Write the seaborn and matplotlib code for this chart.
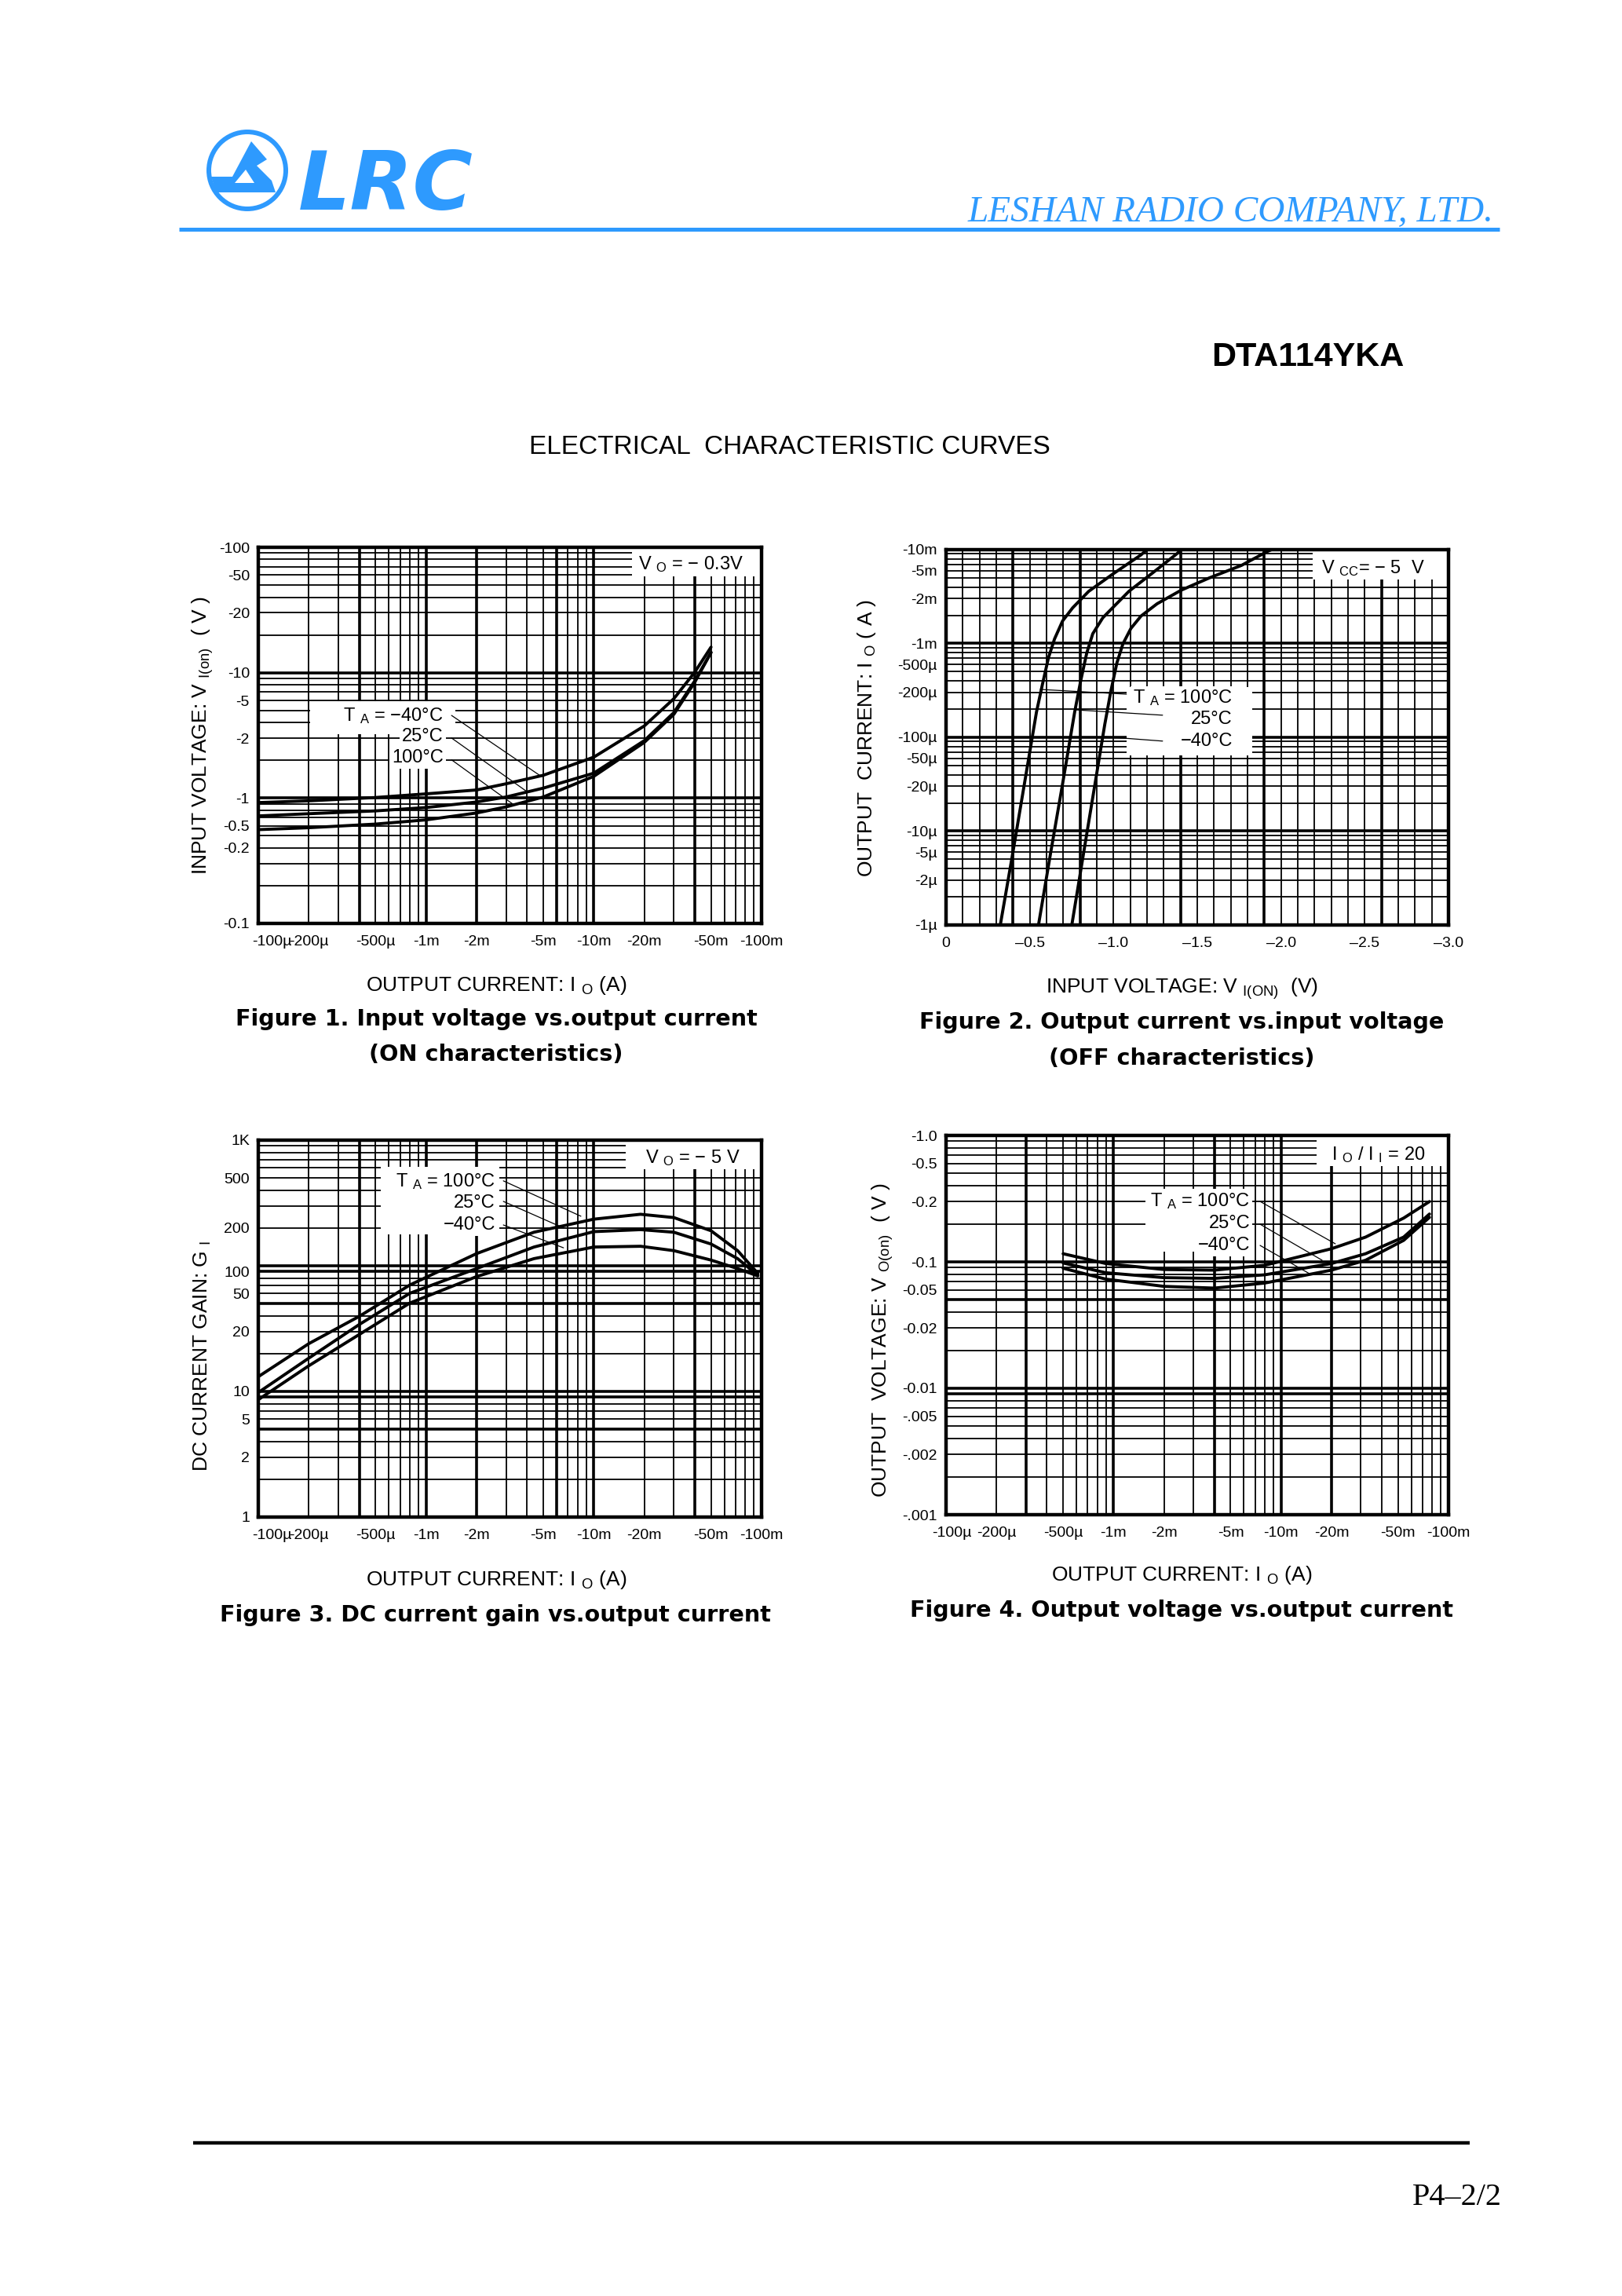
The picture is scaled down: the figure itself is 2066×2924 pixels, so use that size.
import numpy as np
import seaborn as sns
import matplotlib.pyplot as plt
from matplotlib.patches import Rectangle, Circle, Polygon
from matplotlib.ticker import NullLocator

sns.set_theme(style="white")
plt.rcParams["font.family"] = ["Liberation Sans", "DejaVu Sans"]
plt.rcParams["mathtext.fontset"] = "custom"
plt.rcParams["mathtext.rm"] = "Liberation Sans"
plt.rcParams["mathtext.it"] = "Liberation Sans:italic"
plt.rcParams["text.color"] = "black"
plt.rcParams["axes.labelcolor"] = "black"
plt.rcParams["xtick.color"] = "black"
plt.rcParams["ytick.color"] = "black"

BLUE = "#2E9AFE"

# ===================== data =====================
# Figure 1: input voltage V_I(on) vs output current I_O  (V_O = -0.3 V), magnitudes
f1_io = [1e-4, 2e-4, 5e-4, 1e-3, 2e-3, 3e-3, 5e-3, 1e-2, 2e-2, 3e-2, 4e-2, 5e-2]
f1_m40 = [0.92, 0.95, 1.01, 1.08, 1.16, 1.30, 1.52, 2.12, 3.76, 6.2, 10.1, 16.0]
f1_25 = [0.72, 0.75, 0.79, 0.84, 0.93, 1.02, 1.20, 1.58, 2.87, 4.8, 8.6, 14.5]
f1_100 = [0.56, 0.58, 0.62, 0.67, 0.76, 0.85, 1.02, 1.49, 2.78, 4.65, 8.4, 14.5]

# Figure 2: output current vs input voltage (V_CC = -5 V), magnitudes
f2_100_v = [0.324, 0.396, 0.468, 0.540, 0.576, 0.612, 0.648, 0.696, 0.756, 0.852, 0.996, 1.164, 1.200]
f2_100_i = [1e-6, 5.5e-6, 3.2e-5, 1.86e-4, 3.7e-4, 7.1e-4, 1.12e-3, 1.74e-3, 2.4e-3, 3.6e-3, 5.5e-3, 8.8e-3, 1e-2]
f2_25_v = [0.552, 0.624, 0.696, 0.768, 0.804, 0.840, 0.876, 0.936, 1.008, 1.092, 1.236, 1.380, 1.404]
f2_25_i = [1e-6, 5.8e-6, 3.2e-5, 1.86e-4, 4.0e-4, 7.9e-4, 1.27e-3, 1.88e-3, 2.54e-3, 3.6e-3, 5.7e-3, 9.1e-3, 1e-2]
f2_m40_v = [0.751, 0.828, 0.900, 0.948, 0.984, 1.020, 1.056, 1.104, 1.164, 1.260, 1.404, 1.572, 1.764, 1.920, 1.944]
f2_m40_i = [1e-6, 6.9e-6, 4.15e-5, 1.38e-4, 3.1e-4, 6.2e-4, 9.9e-4, 1.45e-3, 1.96e-3, 2.65e-3, 3.7e-3, 5.0e-3, 6.8e-3, 9.6e-3, 1e-2]

# Figure 3: DC current gain vs output current (V_O = -5 V)
f3_io = [1e-4, 2e-4, 4e-4, 8e-4, 2e-3, 4.4e-3, 1e-2, 1.9e-2, 3e-2, 5e-2, 7.2e-2, 9.5e-2]
f3_100 = [13.1, 24.0, 39.6, 70.3, 125, 185, 235, 257, 242, 190, 132, 87]
f3_25 = [9.8, 18.4, 34.1, 60.4, 95, 141, 187, 194, 185, 149, 114, 84]
f3_m40 = [8.6, 16.0, 28.4, 50.5, 82, 114, 141, 143, 132, 111, 95, 83]

# Figure 4: output voltage vs output current (I_O/I_I = 20)
f4_io = [5e-4, 9e-4, 2e-3, 4e-3, 8e-3, 2e-2, 3.2e-2, 5.4e-2, 7.7e-2]
f4_100 = [0.116, 0.097, 0.087, 0.086, 0.094, 0.127, 0.157, 0.222, 0.300]
f4_25 = [0.098, 0.082, 0.075, 0.074, 0.079, 0.097, 0.116, 0.157, 0.239]
f4_m40 = [0.089, 0.073, 0.064, 0.062, 0.068, 0.086, 0.103, 0.148, 0.225]

# tick labels (placed where the datasheet prints them)
cur_ticks = [1e-4, 2e-4, 5e-4, 1e-3, 2e-3, 5e-3, 1e-2, 2e-2, 5e-2, 1e-1]
cur_labels = ["-100µ", "-200µ", "-500µ", "-1m", "-2m", "-5m", "-10m", "-20m", "-50m", "-100m"]
f1_yticks = [100, 60, 30, 10, 6, 3, 1, 0.6, 0.4, 0.1]
f1_ylabels = ["-100", "-50", "-20", "-10", "-5", "-2", "-1", "-0.5", "-0.2", "-0.1"]
f2_xticks = [0, 0.5, 1.0, 1.5, 2.0, 2.5, 3.0]
f2_xlabels = ["0", "–0.5", "–1.0", "–1.5", "–2.0", "–2.5", "–3.0"]
f2_yticks = [1e-2, 6e-3, 3e-3, 1e-3, 6e-4, 3e-4, 1e-4, 6e-5, 3e-5, 1e-5, 6e-6, 3e-6, 1e-6]
f2_ylabels = ["-10m", "-5m", "-2m", "-1m", "-500µ", "-200µ", "-100µ", "-50µ", "-20µ", "-10µ", "-5µ", "-2µ", "-1µ"]
f3_yticks = [1000, 500, 200, 90, 60, 30, 10, 6, 3, 1]
f3_ylabels = ["1K", "500", "200", "100", "50", "20", "10", "5", "2", "1"]
f4_yticks = [1.0, 0.6, 0.3, 0.1, 0.06, 0.03, 0.01, 0.006, 0.003, 0.001]
f4_ylabels = ["-1.0", "-0.5", "-0.2", "-0.1", "-0.05", "-0.02", "-0.01", "-.005", "-.002", "-.001"]

W, H = 2066, 2924
fig = plt.figure(figsize=(W / 100, H / 100), dpi=100)
fig.patch.set_facecolor("white")

# page overlay in pixel coordinates
ax0 = fig.add_axes([0, 0, 1, 1])
ax0.set_xlim(0, W)
ax0.set_ylim(H, 0)
ax0.axis("off")

TICK = 14
XPAD = 11


def px_axes(l, t, r, b):
    return fig.add_axes([l / W, 1 - b / H, (r - l) / W, (b - t) / H])


def log_values(lo, hi):
    out = []
    for d in range(int(np.floor(np.log10(lo))), int(np.ceil(np.log10(hi)))):
        for k in range(1, 10):
            v = k * 10.0 ** d
            if lo * 1.0001 < v < hi * 0.9999:
                out.append(v)
    return out


def is_decade(v):
    lv = np.log10(v)
    return np.isclose(lv, np.round(lv))


def draw_grid(ax, xs, ys, thick_x, thick_y, xlog=True):
    for v in xs:
        heavy = any(np.isclose(v, t) for t in thick_x) or (xlog and is_decade(v))
        ax.axvline(v, color="black", lw=2.6 if heavy else 1.3, zorder=1)
    for v in ys:
        heavy = any(np.isclose(v, t) for t in thick_y) or is_decade(v)
        ax.axhline(v, color="black", lw=2.6 if heavy else 1.3, zorder=1)


def white_box(ax, x0, y0, x1, y1):
    ax.add_patch(Rectangle((x0, y0), x1 - x0, y1 - y0, transform=ax.transAxes,
                           facecolor="white", edgecolor="none", zorder=2))


def style_axes(ax):
    ax.set_facecolor("white")
    for s in ax.spines.values():
        s.set_visible(True)
        s.set_linewidth(3.2)
        s.set_color("black")
        s.set_zorder(6)
    ax.xaxis.set_minor_locator(NullLocator())
    ax.yaxis.set_minor_locator(NullLocator())
    ax.tick_params(which="both", length=0, labelsize=TICK, colors="black")
    ax.tick_params(axis="y", pad=8)
    ax.tick_params(axis="x", pad=XPAD)


def current_axis(ax, dx):
    # first label sits left of the frame, as printed on the sheet
    ax.set_xticks(cur_ticks, [""] + cur_labels[1:])
    ax.annotate(cur_labels[0], xy=(0, 0), xycoords="axes fraction", xytext=(dx, -XPAD),
                textcoords="offset points", ha="left", va="top", fontsize=TICK)


def temp_labels(ax, texts, fx, fys, starts, ends):
    for t, fy in zip(texts, fys):
        ax.text(fx, fy, t, transform=ax.transAxes, ha="right", va="center", fontsize=17,
                zorder=5, bbox=dict(facecolor="white", edgecolor="none", pad=2))
    for (sx, sy), (ex, ey) in zip(starts, ends):
        ax.annotate("", xy=(ex, ey), xycoords="data", xytext=(sx, sy), textcoords="axes fraction",
                    arrowprops=dict(arrowstyle="-", lw=0.9, color="black", shrinkA=0, shrinkB=0),
                    zorder=5)


def curves(ax, xs_list, ys_list):
    for xs, ys in zip(xs_list, ys_list):
        sns.lineplot(x=xs, y=ys, ax=ax, color="black", linewidth=2.8, estimator=None,
                     sort=False, legend=False, zorder=4)


LBL = 19

# ===================== Figure 1 =====================
ax1 = px_axes(329, 697, 970, 1176)
ax1.set_xscale("log"); ax1.set_yscale("log")
ax1.set_xlim(1e-4, 1e-1); ax1.set_ylim(0.1, 100)
draw_grid(ax1, log_values(1e-4, 1e-1), log_values(0.1, 100), [4e-4, 2e-3, 6e-3, 4e-2], [])
white_box(ax1, 0.743, 0.923, 1.0, 1.0)
white_box(ax1, 0.103, 0.503, 0.392, 0.591)
curves(ax1, [f1_io] * 3, [f1_m40, f1_25, f1_100])
ax1.text(0.86, 0.954, r"V $_{\rm O}$ = − 0.3V", transform=ax1.transAxes, ha="center", va="center",
         fontsize=17, zorder=5)
temp_labels(ax1, [r"T $_{\rm A}$ = −40°C", "25°C", "100°C"], 0.368, [0.553, 0.497, 0.440],
            [(0.384, 0.553), (0.384, 0.493), (0.384, 0.435)],
            [(4.89e-3, 1.48), (3.94e-3, 1.14), (3.35e-3, 0.88)])
style_axes(ax1)
current_axis(ax1, -6)
ax1.set_yticks(f1_yticks, f1_ylabels)
ax1.set_xlabel(r"OUTPUT CURRENT: I $_{\rm O}$ (A)", fontsize=LBL)
ax1.set_ylabel(r"INPUT VOLTAGE: V $_{\rm I(on)}$  ( V )", fontsize=LBL)
ax1.xaxis.set_label_coords(0.473, -0.165)
ax1.yaxis.set_label_coords(-0.111, 0.5)

# ===================== Figure 2 =====================
ax2 = px_axes(1205, 700, 1845, 1178)
ax2.set_yscale("log")
ax2.set_xlim(0, 3.0); ax2.set_ylim(1e-6, 1e-2)
draw_grid(ax2, list(np.arange(1, 30) / 10.0), log_values(1e-6, 1e-2), [0.4, 0.8, 1.4, 1.9, 2.6], [], xlog=False)
white_box(ax2, 0.73, 0.92, 1.0, 1.0)
white_box(ax2, 0.359, 0.452, 0.609, 0.634)
curves(ax2, [f2_100_v, f2_25_v, f2_m40_v], [f2_100_i, f2_25_i, f2_m40_i])
ax2.text(0.85, 0.95, r"V $_{\rm CC}$= − 5  V", transform=ax2.transAxes, ha="center", va="center",
         fontsize=17, zorder=5)
temp_labels(ax2, [r"T $_{\rm A}$ = 100°C", "25°C", "−40°C"], 0.570, [0.605, 0.548, 0.490],
            [(0.359, 0.615), (0.431, 0.559), (0.431, 0.490)],
            [(0.5625, 3.24e-4), (0.778, 1.96e-4), (0.933, 1.02e-4)])
style_axes(ax2)
ax2.set_xticks(f2_xticks, f2_xlabels)
ax2.set_yticks(f2_yticks, f2_ylabels)
ax2.set_xlabel(r"INPUT VOLTAGE: V $_{\rm I(ON)}$  (V)", fontsize=LBL)
ax2.set_ylabel(r"OUTPUT  CURRENT: I $_{\rm O}$ ( A )", fontsize=LBL)
ax2.xaxis.set_label_coords(0.469, -0.169)
ax2.yaxis.set_label_coords(-0.158, 0.498)

# ===================== Figure 3 =====================
ax3 = px_axes(329, 1452, 970, 1932)
ax3.set_xscale("log"); ax3.set_yscale("log")
ax3.set_xlim(1e-4, 1e-1); ax3.set_ylim(1, 1000)
draw_grid(ax3, log_values(1e-4, 1e-1), log_values(1, 1000), [4e-4, 2e-3, 6e-3, 4e-2], [90, 50, 9, 5])
white_box(ax3, 0.73, 0.923, 1.0, 1.0)
white_box(ax3, 0.243, 0.75, 0.479, 0.929)
curves(ax3, [f3_io] * 3, [f3_100, f3_25, f3_m40])
ax3.text(0.864, 0.954, r"V $_{\rm O}$ = − 5 V", transform=ax3.transAxes, ha="center", va="center",
         fontsize=17, zorder=5)
temp_labels(ax3, [r"T $_{\rm A}$ = 100°C", "25°C", "−40°C"], 0.471, [0.890, 0.833, 0.774],
            [(0.487, 0.892), (0.487, 0.8375), (0.487, 0.775)],
            [(8.38e-3, 248), (6.6e-3, 200), (6.6e-3, 139)])
style_axes(ax3)
current_axis(ax3, -6)
ax3.set_yticks(f3_yticks, f3_ylabels)
ax3.set_xlabel(r"OUTPUT CURRENT: I $_{\rm O}$ (A)", fontsize=LBL)
ax3.set_ylabel(r"DC CURRENT GAIN: G $_{\rm I}$", fontsize=LBL)
ax3.xaxis.set_label_coords(0.473, -0.167)
ax3.yaxis.set_label_coords(-0.111, 0.427)

# ===================== Figure 4 =====================
ax4 = px_axes(1205, 1446, 1845, 1929)
ax4.set_xscale("log"); ax4.set_yscale("log")
ax4.set_xlim(1e-4, 1e-1); ax4.set_ylim(0.001, 1.0)
draw_grid(ax4, log_values(1e-4, 1e-1), log_values(0.001, 1.0), [3e-4, 1e-3, 4e-3, 2e-2], [0.05, 0.009])
white_box(ax4, 0.7375, 0.919, 1.0, 1.0)
white_box(ax4, 0.397, 0.694, 0.609, 0.859)
curves(ax4, [f4_io] * 3, [f4_100, f4_25, f4_m40])
ax4.text(0.861, 0.950, r"I $_{\rm O}$ / I $_{\rm I}$ = 20", transform=ax4.transAxes, ha="center",
         va="center", fontsize=17, zorder=5)
temp_labels(ax4, [r"T $_{\rm A}$ = 100°C", "25°C", "−40°C"], 0.605, [0.826, 0.768, 0.710],
            [(0.625, 0.826), (0.625, 0.766), (0.625, 0.710)],
            [(2.11e-2, 0.139), (1.76e-2, 0.103), (1.47e-2, 0.081)])
style_axes(ax4)
current_axis(ax4, -13)
ax4.set_yticks(f4_yticks, f4_ylabels)
ax4.set_xlabel(r"OUTPUT CURRENT: I $_{\rm O}$ (A)", fontsize=LBL)
ax4.set_ylabel(r"OUTPUT  VOLTAGE: V $_{\rm O(on)}$  ( V )", fontsize=LBL)
ax4.xaxis.set_label_coords(0.469, -0.159)
ax4.yaxis.set_label_coords(-0.127, 0.46)

for a in (ax1, ax2, ax3, ax4):
    a.xaxis.label.set_va("center")
    a.yaxis.label.set_va("center")

# ===================== captions =====================
cap = dict(fontsize=20.6, fontweight="bold", family="DejaVu Sans", ha="center", va="center")
ax0.text(632, 1298, "Figure 1. Input voltage vs.output current", **cap)
ax0.text(632, 1343, "(ON characteristics)", **cap)
ax0.text(1505, 1302, "Figure 2. Output current vs.input voltage", **cap)
ax0.text(1505, 1348, "(OFF characteristics)", **cap)
ax0.text(631, 2057, "Figure 3. DC current gain vs.output current", **cap)
ax0.text(1505, 2051, "Figure 4. Output voltage vs.output current", **cap)

# ===================== header =====================
ax0.add_patch(Circle((315, 217), 49, fill=False, lw=4.3, edgecolor=BLUE))
logo = np.array([(5, -37), (25, -14), (12, -6), (31, 13), (36, 28), (-40, 28), (-46, 8), (-19, 8)])
ax0.add_patch(Polygon(logo + [315, 217], closed=True, facecolor=BLUE, edgecolor="none"))
notch = np.array([(-16, 16), (9, 16), (-2, -1)])
ax0.add_patch(Polygon(notch + [315, 217], closed=True, facecolor="white", edgecolor="none"))
ax0.text(380, 267, "LRC", family="DejaVu Sans", fontweight="bold", fontstyle="italic",
         fontsize=75, color=BLUE, ha="left", va="baseline")
ax0.text(1903, 282, "LESHAN RADIO COMPANY, LTD.", family="Liberation Serif", fontstyle="italic",
         fontsize=34, color=BLUE, ha="right", va="baseline")
ax0.plot([228, 1910], [292, 292], color=BLUE, lw=3.6, solid_capstyle="butt")
ax0.text(1543, 466, "DTA114YKA", fontweight="bold", fontsize=31, ha="left", va="baseline")
ax0.text(1006, 578, "ELECTRICAL  CHARACTERISTIC CURVES", fontsize=24, ha="center", va="baseline")

# ===================== footer =====================
ax0.plot([246, 1872], [2729, 2729], color="black", lw=3.2, solid_capstyle="butt")
ax0.text(1913, 2808, "P4–2/2", family="Liberation Serif", fontsize=29, ha="right", va="baseline")

fig.savefig("out.png", dpi=100, facecolor="white")
